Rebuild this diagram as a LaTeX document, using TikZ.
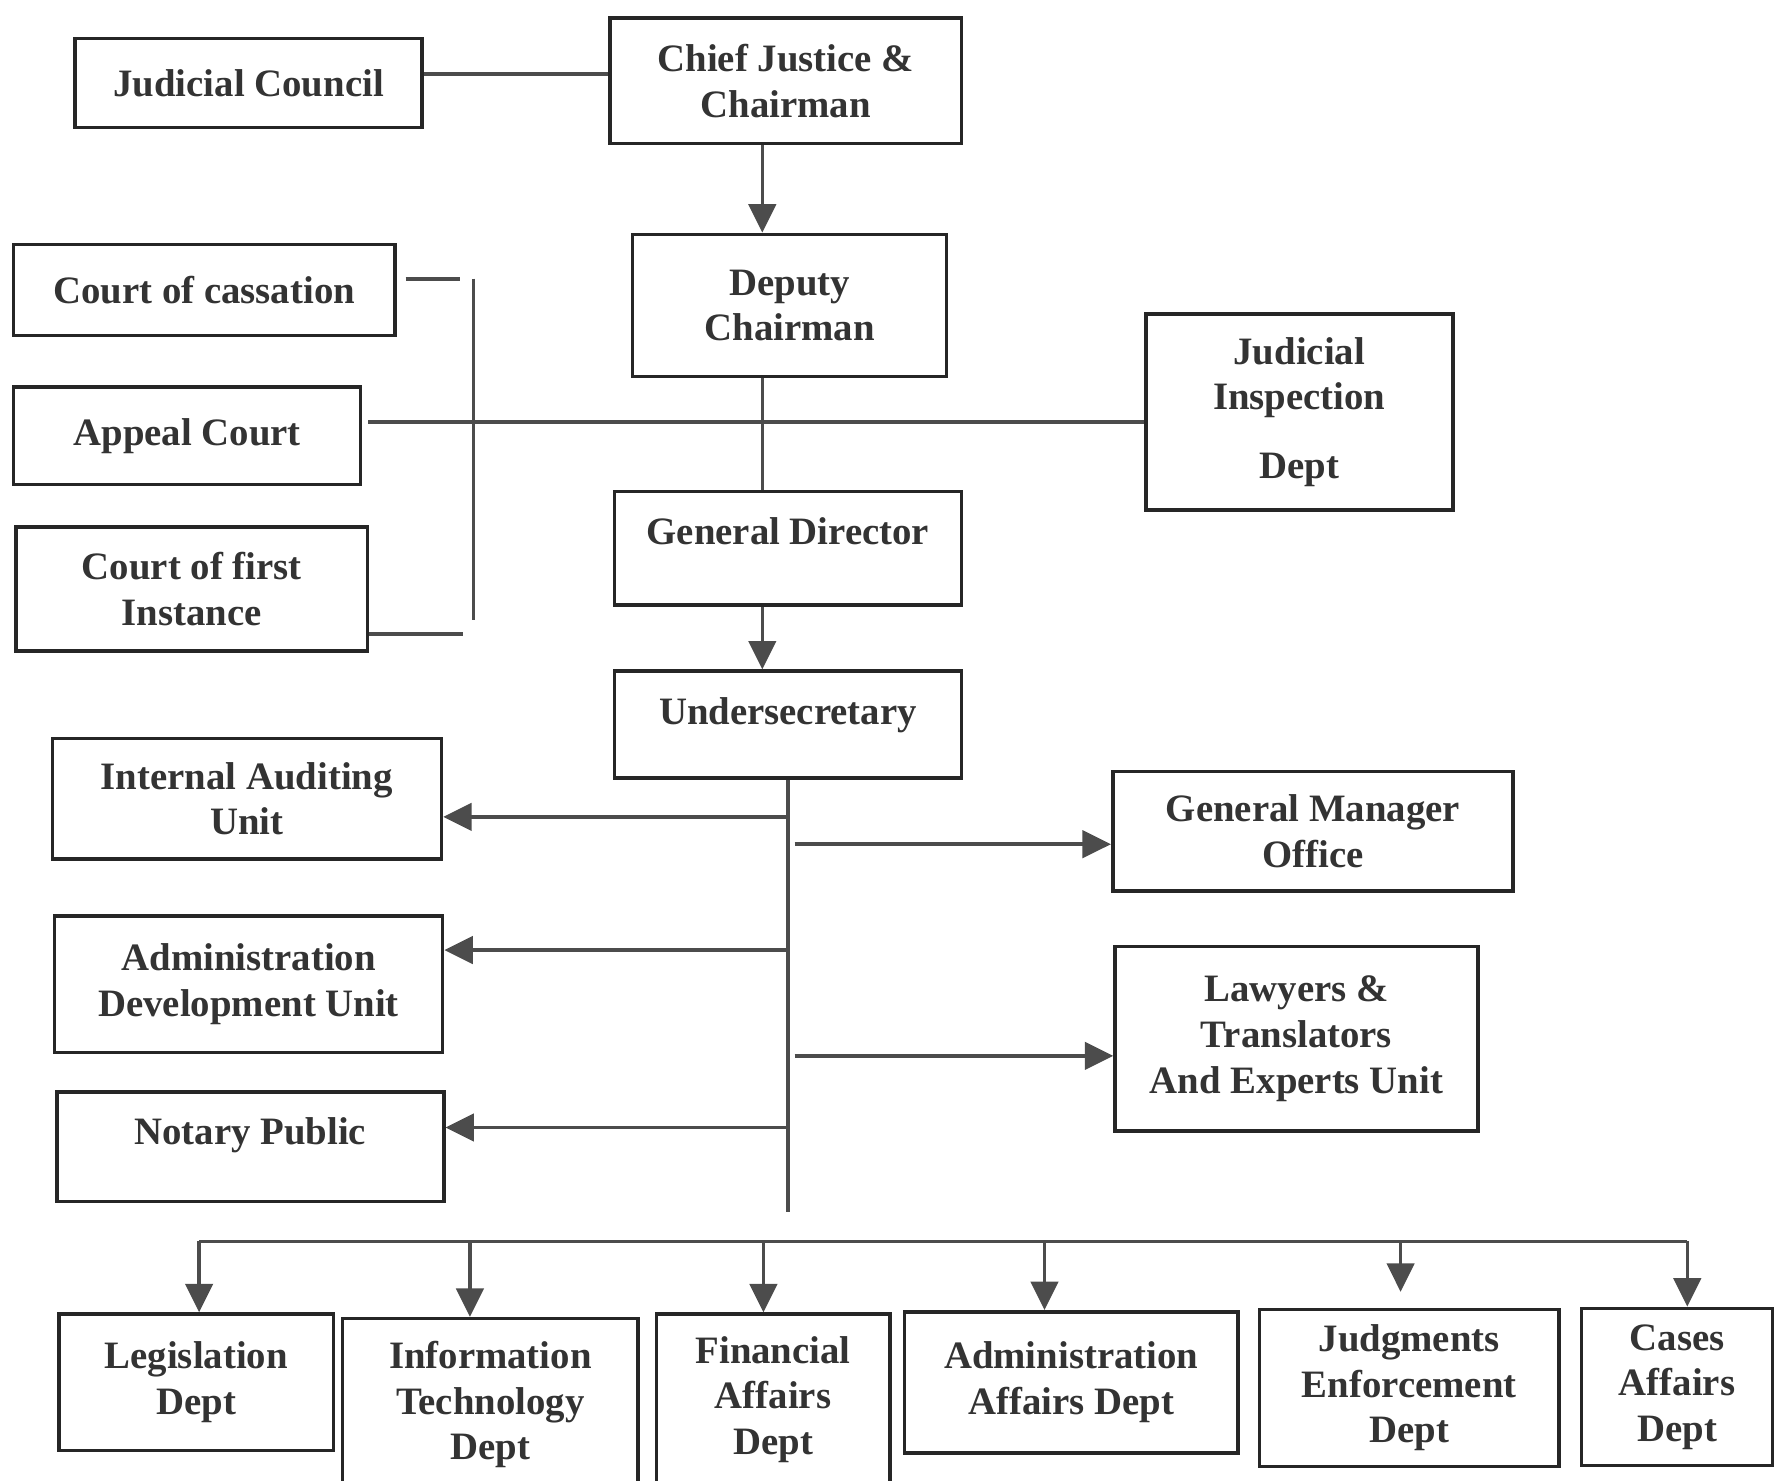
\documentclass[tikz,border=0pt]{standalone}
\usepackage{fontspec}
\setmainfont{Liberation Serif}
\usetikzlibrary{arrows.meta,calc}

\begin{document}
\begin{tikzpicture}[
	box/.style={draw=black!85, line width=0.9pt, align=center, inner sep=0pt, text=black!80, font=\bfseries\fontsize{9.7}{11.4}\selectfont},
	link/.style={draw=black!70, line width=0.9pt},
	arr/.style={link, -{Triangle[length=0.25cm, width=0.24cm]}}]
			\useasboundingbox (0, 0) rectangle (15.68, 13.01);
			\clip (0, 0) rectangle (15.68, 13.01);

			\draw (2.185, 12.28) 	node[box, minimum width=3.05cm, minimum height=0.78cm] 	(jc) 		{Judicial Council};
			\draw (6.905, 12.30) 	node[box, minimum width=3.09cm, minimum height=1.10cm] 	(cj) 		{Chief Justice \&\\Chairman};
			\draw (6.94, 10.325) 	node[box, minimum width=2.76cm, minimum height=1.25cm] 	(dep) 		{Deputy\\Chairman};
			\draw (1.795, 10.46) 	node[box, minimum width=3.35cm, minimum height=0.80cm] 	(cass) 		{Court of cassation};
			\draw (1.645, 9.18) 	node[box, minimum width=3.05cm, minimum height=0.86cm] 	(appeal) 	{Appeal Court};
			\draw (1.685, 7.835) 	node[box, minimum width=3.09cm, minimum height=1.09cm] 	(first) 	{Court of first\\Instance};
			\draw (11.42, 9.39) 	node[box, minimum width=2.70cm, minimum height=1.72cm] 	(insp) 		{Judicial\\Inspection\\[0.2cm]Dept};
			\draw (6.925, 8.19) 	node[box, minimum width=3.05cm, minimum height=1.00cm, text height=0.47cm, text depth=0.53cm] 	(gd) 	{General Director};
			\draw (6.925, 6.64) 	node[box, minimum width=3.05cm, minimum height=0.94cm, text height=0.47cm, text depth=0.47cm] 	(under) {Undersecretary};
			\draw (2.17, 5.99) 		node[box, minimum width=3.42cm, minimum height=1.06cm] 	(audit) 	{Internal Auditing\\Unit};
			\draw (11.54, 5.705) 	node[box, minimum width=3.52cm, minimum height=1.05cm] 	(gmo) 		{General Manager\\Office};
			\draw (2.185, 4.36) 	node[box, minimum width=3.41cm, minimum height=1.20cm] 	(admdev) 	{Administration\\Development Unit};
			\draw (11.395, 3.88) 	node[box, minimum width=3.19cm, minimum height=1.62cm] 	(lawyers) 	{Lawyers \&\\Translators\\And Experts Unit};
			\draw (2.20, 2.93) 		node[box, minimum width=3.40cm, minimum height=0.96cm, text height=0.46cm, text depth=0.50cm] 	(notary) {Notary Public};

			\draw (1.725, 0.86) 	node[box, minimum width=2.41cm, minimum height=1.20cm] 	(legis) 	{Legislation\\Dept};
			\draw (4.31, 0.665) 	node[box, minimum width=2.60cm, minimum height=1.51cm] 	(itdept) 	{Information\\Technology\\Dept};
			\draw (6.795, 0.71) 	node[box, minimum width=2.05cm, minimum height=1.50cm] 	(fin) 		{Financial\\Affairs\\Dept};
			\draw (9.415, 0.86) 	node[box, minimum width=2.93cm, minimum height=1.24cm] 	(admaff) 	{Administration\\Affairs Dept};
			\draw (12.385, 0.81) 	node[box, minimum width=2.63cm, minimum height=1.38cm] 	(judg) 		{Judgments\\Enforcement\\Dept};
			\draw (14.74, 0.82) 	node[box, minimum width=1.68cm, minimum height=1.38cm] 	(cases) 	{Cases\\Affairs\\Dept};

			\coordinate (axis) 		at (6.70, 0);
			\coordinate (brtop) 	at (4.16, 10.56);
			\coordinate (brbot) 	at (4.16, 7.56);
			\coordinate (trunkend) 	at (6.925, 2.36);
			\coordinate (busl) 		at (1.75, 2.10);
			\coordinate (busr) 		at (14.83, 2.10);

			% top of the chart
			\draw[link] ($(jc.east)+(0,0.08)$) -- ($(jc.east -| cj.west)+(0,0.08)$);
			\draw[arr] (cj.south -| axis) -- (dep.north -| axis);
			\draw[link] (dep.south -| axis) -- (gd.north -| axis);
			\draw[arr] (gd.south -| axis) -- (under.north -| axis);

			% courts
			\draw[link] ($(cass.east)+(0.08,0.10)$) -- +(0.48,0);
			\draw[link] (brtop) -- (brbot);
			\draw[link] ($(first.east)+(0,-0.395)$) -- +(0.82,0);
			\draw[link] ($(appeal.east)+(0.05,0.12)$) -- ($(appeal.east -| insp.west)+(0,0.12)$);

			% units under the undersecretary
			\draw[link] (under.south) -- (trunkend);
			\foreach \n/\y in {audit/5.83, admdev/4.66, notary/3.10}
				\draw[arr] (under.south |- 0,\y) -- (\n.east |- 0,\y);
			\foreach \n/\y in {gmo/5.59, lawyers/3.73}
				\draw[arr] ($(under.south |- 0,\y)+(0.06,0)$) -- (\n.west |- 0,\y);

			% departments
			\draw[link] (busl) -- (busr);
			\foreach \n/\x in {legis/1.75, itdept/4.13, fin/6.71, admaff/9.18, cases/14.83}
				\draw[arr] (\x,2.10) -- (\n.north -| \x,0);
			\draw[arr] (12.31,2.10) -- ($(judg.north -| 12.31,0)+(0,0.14)$);
\end{tikzpicture}
\end{document}
